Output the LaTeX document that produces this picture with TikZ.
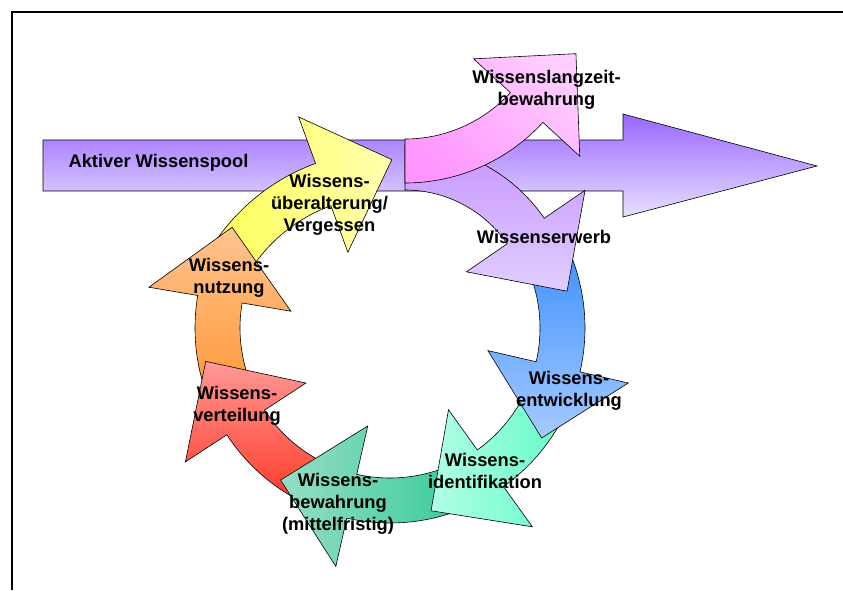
\documentclass[tikz,border=0pt]{standalone}
\usepackage{fontspec}
\setmainfont{Liberation Sans}
\usetikzlibrary{calc}

\definecolor{poolTop}{RGB}{153,102,255}
\definecolor{poolBot}{RGB}{232,224,255}
\definecolor{pinkA}{RGB}{255,204,255}
\definecolor{pinkB}{RGB}{255,150,255}
\definecolor{lilaA}{RGB}{200,150,255}
\definecolor{lilaB}{RGB}{224,206,255}
\definecolor{blueA}{RGB}{60,145,255}
\definecolor{blueB}{RGB}{166,202,255}
\definecolor{mintA}{RGB}{176,255,230}
\definecolor{mintB}{RGB}{100,250,200}
\definecolor{tealA}{RGB}{150,222,196}
\definecolor{tealB}{RGB}{50,202,150}
\definecolor{redA}{RGB}{255,153,150}
\definecolor{redB}{RGB}{255,55,35}
\definecolor{orangeA}{RGB}{255,196,145}
\definecolor{orangeB}{RGB}{255,150,50}
\definecolor{yellowA}{RGB}{255,255,85}
\definecolor{yellowB}{RGB}{255,255,176}

% block arc arrow: #1 style, #2 centre, #3 inner radius, #4 outer radius,
% #5 start angle, #6 end angle (head at #6)
\newcommand{\ringarrow}[6]{%
  \pgfmathsetmacro{\rmid}{(#3+#4)/2}%
  \pgfmathsetmacro{\rhin}{\rmid-72}%
  \pgfmathsetmacro{\rhout}{\rmid+72}%
  \pgfmathsetmacro{\turn}{(#5>#6) ? 90 : -90}%
  \begin{scope}[shift={(#2)}]
    \draw[#1] (#5:#4) arc[start angle=#5, end angle=#6, radius=#4]
      -- (#6:\rhout)
      -- ($(#6:\rmid)!73pt!\turn:(0,0)$)
      -- (#6:\rhin)
      -- (#6:#3) arc[start angle=#6, end angle=#5, radius=#3] -- cycle;
  \end{scope}}

\begin{document}
\begin{tikzpicture}[
    x=1pt, y=1pt,
    boxline/.style={fill=black},
    arr/.style={draw=black, line width=0.6pt, line join=miter},
    lbl/.style={font=\bfseries\fontsize{18.3}{22}\selectfont, align=center, inner sep=0pt}
  ]
    \useasboundingbox (0,0) rectangle (843,-590);
    % frame (left and top edge only)
    \fill[boxline] (11.25,-590) rectangle (12.75,-11.25);
    \fill[boxline] (11.25,-11.25) rectangle (843,-12.75);

    % big arrow (pool)
    \draw[arr, top color=poolTop, bottom color=poolBot]
      (43,-140) -- (623,-140) -- (623,-114) -- (817,-166)
      -- (623,-217) -- (623,-191) -- (43,-191) -- cycle;

    % the cycle
    \ringarrow{arr, left color=yellowA, right color=yellowB}{386,-357}{161}{206}{150}{110}
    \ringarrow{arr, top color=orangeA, bottom color=orangeB}{390,-328}{150}{195}{-157}{-189.6}
    \ringarrow{arr, top color=redA, bottom color=redB}{390,-328}{150}{195}{-113}{-146.8}
    \ringarrow{arr, left color=tealA, right color=tealB}{390,-328}{150}{195}{-64}{-102.8}
    \ringarrow{arr, left color=mintA, right color=mintB}{390,-328}{150}{195}{-23}{-54.4}
    \ringarrow{arr, top color=blueA, bottom color=blueB}{390,-328}{150}{195}{25}{-13}
    \ringarrow{arr, top color=lilaA, bottom color=lilaB}{405,-314}{124}{169}{90}{34.5}
    \ringarrow{arr, top color=pinkA, bottom color=pinkB, shading angle=-45}{405,4}{143}{187}{-90}{-42.5}

    % labels
    \node[lbl] (pool)     at (158.5,-163) {Aktiver Wissenspool};
    \node[lbl] (langzeit) at (546.5,-90)  {Wissenslangzeit-\\bewahrung};
    \node[lbl] (erwerb)   at (544,-236.5) {Wissenserwerb};
    \node[lbl] (entw)     at (569,-390.5) {Wissens-\\entwicklung};
    \node[lbl] (ident)    at (485,-470.5) {Wissens-\\identifikation};
    \node[lbl] (bewahr)   at (338,-504)   {Wissens-\\bewahrung\\(mittelfristig)};
    \node[lbl] (vert)     at (237,-406)   {Wissens-\\verteilung};
    \node[lbl] (nutz)     at (229,-277.5) {Wissens-\\nutzung};
    \node[lbl] (alt)      at (329.5,-205) {Wissens-\\überalterung/\\Vergessen};
  \end{tikzpicture}
\end{document}
